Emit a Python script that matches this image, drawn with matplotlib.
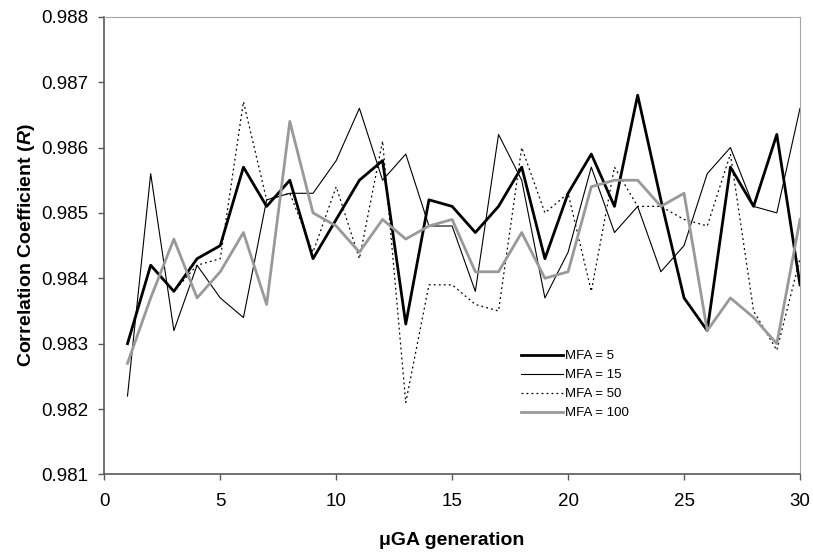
import numpy as np
import matplotlib
matplotlib.use("Agg")
import matplotlib.pyplot as plt

plt.rcParams['font.family'] = ['Liberation Sans', 'DejaVu Sans']
plt.rcParams['mathtext.fontset'] = 'custom'
plt.rcParams['mathtext.rm'] = 'Liberation Sans:bold'
plt.rcParams['mathtext.bfit'] = 'Liberation Sans:italic:bold'

# data
generations = np.arange(1, 31)
mfa5 = [0.9830, 0.9842, 0.9838, 0.9843, 0.9845, 0.9857, 0.9851, 0.9855, 0.9843, 0.9849,
        0.9855, 0.9858, 0.9833, 0.9852, 0.9851, 0.9847, 0.9851, 0.9857, 0.9843, 0.9853,
        0.9859, 0.9851, 0.9868, 0.9852, 0.9837, 0.9832, 0.9857, 0.9851, 0.9862, 0.9839]
mfa15 = [0.9822, 0.9856, 0.9832, 0.9842, 0.9837, 0.9834, 0.9852, 0.9853, 0.9853, 0.9858,
         0.9866, 0.9855, 0.9859, 0.9848, 0.9848, 0.9838, 0.9862, 0.9855, 0.9837, 0.9844,
         0.9857, 0.9847, 0.9851, 0.9841, 0.9845, 0.9856, 0.9860, 0.9851, 0.9850, 0.9866]
mfa50 = [0.9830, 0.9842, 0.9838, 0.9842, 0.9843, 0.9867, 0.9852, 0.9853, 0.9844, 0.9854,
         0.9843, 0.9861, 0.9821, 0.9839, 0.9839, 0.9836, 0.9835, 0.9860, 0.9850, 0.9853,
         0.9838, 0.9857, 0.9851, 0.9851, 0.9849, 0.9848, 0.9859, 0.9835, 0.9829, 0.9843]
mfa100 = [0.9827, 0.9837, 0.9846, 0.9837, 0.9841, 0.9847, 0.9836, 0.9864, 0.9850, 0.9848,
          0.9844, 0.9849, 0.9846, 0.9848, 0.9849, 0.9841, 0.9841, 0.9847, 0.9840, 0.9841,
          0.9854, 0.9855, 0.9855, 0.9851, 0.9853, 0.9832, 0.9837, 0.9834, 0.9830, 0.9849]

x_ticks = [0, 5, 10, 15, 20, 25, 30]
y_ticks = [0.981, 0.982, 0.983, 0.984, 0.985, 0.986, 0.987, 0.988]

fig = plt.figure(figsize=(8.13, 5.52), dpi=100)
ax = fig.add_axes([0.1283, 0.1404, 0.8557, 0.8293])

ax.plot(generations, mfa5, color='black', linewidth=2.0, label='MFA = 5')
ax.plot(generations, mfa15, color='black', linewidth=0.8, label='MFA = 15')
ax.plot(generations, mfa50, color='black', linewidth=0.9,
        linestyle=(0, (1.5, 2.5)), label='MFA = 50')
ax.plot(generations, mfa100, color='#999999', linewidth=2.0, label='MFA = 100')

ax.set_xlim(0, 30)
ax.set_ylim(0.981, 0.988)
ax.set_xticks(x_ticks)
ax.set_yticks(y_ticks)
ax.set_yticklabels([f'{v:.3f}' for v in y_ticks])

for side in ['left', 'bottom']:
    ax.spines[side].set_color('#595959')
    ax.spines[side].set_linewidth(1.2)
for side in ['top', 'right']:
    ax.spines[side].set_color('#a6a6a6')
    ax.spines[side].set_linewidth(0.8)

ax.tick_params(axis='both', direction='out', length=4.5, width=1,
               color='#595959', labelsize=13.5)
ax.tick_params(axis='y', pad=7)
ax.tick_params(axis='x', pad=9)

ax.set_xlabel('\u03bcGA generation', fontsize=14, fontweight='bold')
ax.set_ylabel('Correlation Coefficient ($\\mathbfit{R}$)', fontsize=14,
              fontweight='bold')
ax.xaxis.set_label_coords(0.5, -0.126)
ax.yaxis.set_label_coords(-0.097, 0.5)

ax.legend(loc='upper left', bbox_to_anchor=(0.641, 0.366),
          bbox_transform=fig.transFigure, frameon=False, fontsize=9.5,
          handlelength=3.2, handletextpad=0.15, labelspacing=0.52,
          borderpad=0, borderaxespad=0)

fig.savefig('out.png', dpi=100)
